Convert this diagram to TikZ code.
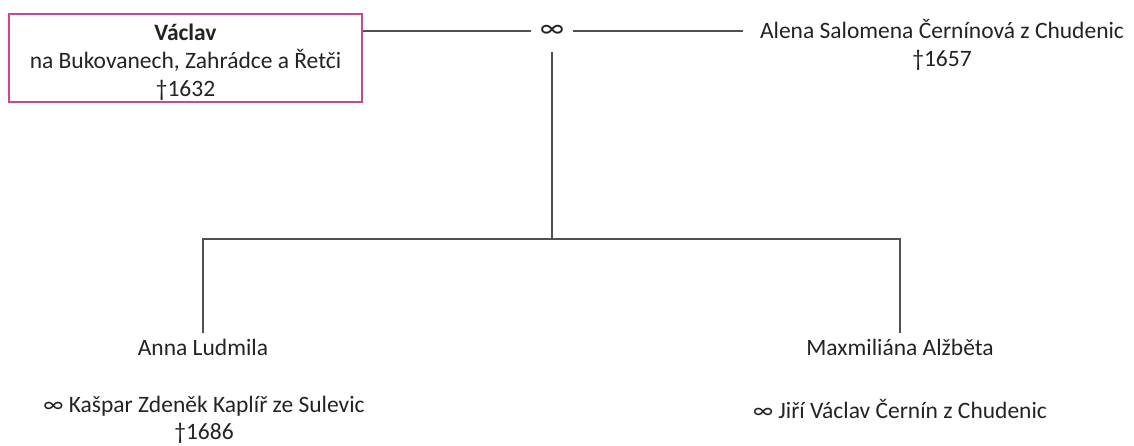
\documentclass[tikz,border=0pt]{standalone}
\usepackage{fontspec}
\setmainfont{Carlito}
\definecolor{boxpink}{RGB}{214,66,140}
\definecolor{txt}{RGB}{35,35,35}
\definecolor{ln}{RGB}{80,80,80}
\tikzset{
  every node/.style={font=\fontsize{23.5}{28}\selectfont, text=txt, align=center},
  person/.style={inner sep=0pt},
  focus/.style={draw=boxpink, line width=1.6pt, minimum width=353pt, minimum height=88pt, inner sep=0pt},
  conn/.style={draw=ln, line width=1.3pt},
  child/.style={anchor=north, inner xsep=0pt, inner ysep=6pt, text height=16.5pt, text depth=5pt}
}
\begin{document}
\begin{tikzpicture}[x=1pt,y=-1pt]
\useasboundingbox (0,0) rectangle (1134,446);
\node[focus, font=\fontsize{23.5}{28}\selectfont] (vaclav) at (185.5,58) {\rule{0pt}{25pt}\textbf{Václav}\\na Bukovanech, Zahrádce a Řetči\\†1632};
\node[minimum width=41pt, minimum height=42pt, inner sep=0pt, font=\fontsize{28}{30}\selectfont] (marr) at (552,31) {∞};
\node[person, inner xsep=17pt] (alena) at (942,45) {Alena Salomena Černínová z Chudenic\\†1657};
\coordinate (fork) at (552,239);
\node[child] (anna) at (203,333) {Anna Ludmila};
\node[child] (max) at (900,333) {Maxmiliána Alžběta};
\node[person, font=\fontsize{23.5}{27}\selectfont] (annasp) at (204,420) {∞ Kašpar Zdeněk Kaplíř ze Sulevic\\†1686};
\node[person] (maxsp) at (900,409) {∞ Jiří Václav Černín z Chudenic};
\draw[conn] (vaclav.east |- marr) -- (marr.west);
\draw[conn] (marr.east) -- (alena.west |- marr);
\draw[conn] (marr.south) -- (fork);
\draw[conn] (anna.north) |- (fork) -| (max.north);
\end{tikzpicture}
\end{document}
